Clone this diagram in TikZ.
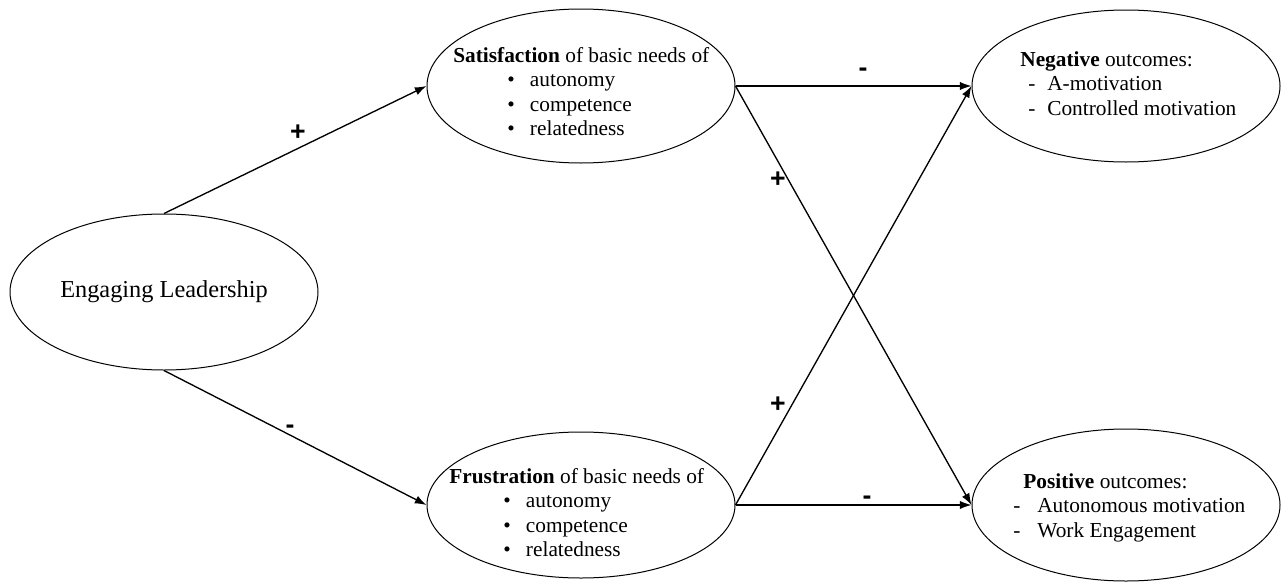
\documentclass[tikz,border=0pt]{standalone}
\usepackage{fontspec}
\setmainfont{Liberation Serif}
\newfontfamily\signfont{Liberation Sans}
\usetikzlibrary{shapes.geometric,arrows.meta}

\tikzset{
  need/.style={draw,ellipse,line width=0.6pt,inner sep=0pt,minimum width=184.8pt},
  link/.style={line width=0.8pt,-{Latex[length=7pt,width=5pt]}},
  sign/.style={font=\signfont\bfseries\fontsize{16}{16}\selectfont,inner sep=0pt},
  list/.style={anchor=base west,inner sep=0pt}
}

\begin{document}
\begin{tikzpicture}[x=0.6pt,y=-0.6pt,font=\fontsize{12.8}{14.7}\selectfont]
\useasboundingbox (0,0) rectangle (1283,586);

\node[need,minimum height=93.6pt,font=\fontsize{14.6}{17}\selectfont] (lead) at (164,292) {Engaging Leadership};
\node[need,minimum height=92.4pt] (sat) at (581,86) {};
\node[need,minimum height=87.6pt] (frus) at (581,505) {};
\node[need,minimum height=91.2pt] (neg) at (1126,86) {};
\node[need,minimum height=91.2pt] (pos) at (1126,505) {};

\node[list] (sattext) at (453,62) {\begin{tabular}[t]{@{}l@{}}
  \textbf{Satisfaction} of basic needs of\\
  \hspace*{32.4pt}\makebox[13.6pt][l]{\textbullet}autonomy\\
  \hspace*{32.4pt}\makebox[13.6pt][l]{\textbullet}competence\\
  \hspace*{32.4pt}\makebox[13.6pt][l]{\textbullet}relatedness
\end{tabular}};
\node[list] (frustext) at (449,483) {\begin{tabular}[t]{@{}l@{}}
  \textbf{Frustration} of basic needs of\\
  \hspace*{32.4pt}\makebox[13.6pt][l]{\textbullet}autonomy\\
  \hspace*{32.4pt}\makebox[13.6pt][l]{\textbullet}competence\\
  \hspace*{32.4pt}\makebox[13.6pt][l]{\textbullet}relatedness
\end{tabular}};
\node[list] (negtext) at (1020,66) {\begin{tabular}[t]{@{}l@{}}
  \textbf{Negative} outcomes:\\
  \hspace*{4.8pt}\makebox[11.4pt][l]{-}A-motivation\\
  \hspace*{4.8pt}\makebox[11.4pt][l]{-}Controlled motivation
\end{tabular}};
\node[list] (postext) at (1013,488) {\begin{tabular}[t]{@{}l@{}}
  \hspace*{6pt}\textbf{Positive} outcomes:\\
  \makebox[14.4pt][l]{-}Autonomous motivation\\
  \makebox[14.4pt][l]{-}Work Engagement
\end{tabular}};

\draw[link] (lead.north) -- (sat.west);
\draw[link] (lead.south) -- (frus.west);
\draw[link] (sat.east) -- (neg.west);
\draw[link] (sat.east) -- (pos.west);
\draw[link] (frus.east) -- (neg.west);
\draw[link] (frus.east) -- (pos.west);

\node[sign] (leadsat) at (298,133) {+};
\node[sign] (leadfrus) at (290,429) {-};
\node[sign] (satneg) at (863,72) {-};
\node[sign] (satpos) at (778,180) {+};
\node[sign] (frusneg) at (778,405) {+};
\node[sign] (fruspos) at (867,500) {-};
\end{tikzpicture}
\end{document}
